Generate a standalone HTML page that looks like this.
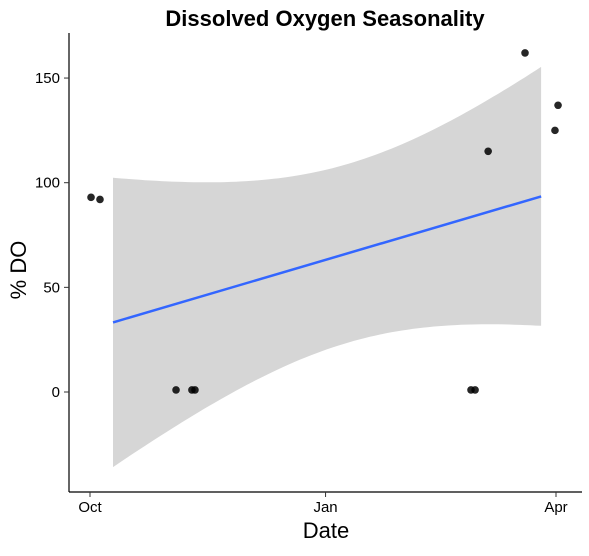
<!DOCTYPE html>
<html><head><meta charset="utf-8"><style>
body{margin:0;background:#fff}
svg text{font-family:"Liberation Sans",sans-serif}
</style></head><body>
<svg id="chart" width="589" height="551">
<text x="325" y="26" text-anchor="middle" font-size="22" font-weight="bold">Dissolved Oxygen Seasonality</text>
<text x="326" y="538" text-anchor="middle" font-size="22">Date</text>
<text transform="translate(26,270) rotate(-90)" text-anchor="middle" font-size="22">% DO</text>
<g id="plot"></g>
</svg>
<script>
// days since Oct 1
const pointDays = [0.4, 3.9, 33.6, 39.8, 41, 148.8, 150.4, 155.5, 169.9, 181.6, 182.8];
const pointValues = [93, 92, 1, 1, 1, 1, 1, 115, 162, 125, 137];
const yTicks = [0, 50, 100, 150];
const xTickDays = [0, 92, 182];
const xTickLabels = ["Oct", "Jan", "Apr"];
const fitRange = [9, 176.2];

const X = d => 90 + d * (556 - 90) / 182;
const Y = v => 392 - v * 2.093;
const ns = "http://www.w3.org/2000/svg";
const g = document.getElementById('plot');
function mk(t, a) { const e = document.createElementNS(ns, t); for (const k in a) e.setAttribute(k, a[k]); g.appendChild(e); return e; }

const n = pointDays.length;
const mx = pointDays.reduce((a, b) => a + b) / n, my = pointValues.reduce((a, b) => a + b) / n;
let sxx = 0, sxy = 0;
for (let i = 0; i < n; i++) { sxx += (pointDays[i] - mx) ** 2; sxy += (pointDays[i] - mx) * (pointValues[i] - my); }
const b = sxy / sxx, a = my - b * mx;
let sse = 0; for (let i = 0; i < n; i++) sse += (pointValues[i] - a - b * pointDays[i]) ** 2;
const s = Math.sqrt(sse / (n - 2)), t = 2.262;
const up = [], lo = [];
for (let k = 0; k <= 80; k++) {
  const d = fitRange[0] + (fitRange[1] - fitRange[0]) * k / 80;
  const f = a + b * d, hw = t * s * Math.sqrt(1 / n + (d - mx) ** 2 / sxx);
  up.push(X(d).toFixed(1) + ',' + Y(f + hw).toFixed(1));
  lo.unshift(X(d).toFixed(1) + ',' + Y(f - hw).toFixed(1));
}
const band = mk('polygon', { points: up.concat(lo).join(' '), fill: '#d6d6d6' });


const line = mk('line', { x1: X(fitRange[0]), y1: Y(a + b * fitRange[0]), x2: X(fitRange[1]), y2: Y(a + b * fitRange[1]), stroke: '#3366ff', 'stroke-width': 2.5 });



pointDays.forEach((d, i) => {
  const c = mk('circle', { cx: X(d), cy: Y(pointValues[i]), r: 3.8, fill: '#000', 'fill-opacity': 0.85 });
  
  
});

const ya = mk('line', { x1: 69, y1: 33, x2: 69, y2: 492, stroke: '#000', 'stroke-width': 1.2 });


const xa = mk('line', { x1: 69, y1: 492, x2: 582, y2: 492, stroke: '#000', 'stroke-width': 1.2 });



yTicks.forEach(v => {
  mk('line', { x1: 64, y1: Y(v), x2: 69, y2: Y(v), stroke: '#333' });
  const tx = mk('text', { x: 60, y: Y(v) + 5, 'text-anchor': 'end', 'font-size': 15, fill: '#000' });
  tx.textContent = v;
  
  
});
xTickDays.forEach((d, i) => {
  mk('line', { x1: X(d), y1: 492, x2: X(d), y2: 497, stroke: '#333' });
  const tx = mk('text', { x: X(d), y: 512, 'text-anchor': 'middle', 'font-size': 15, fill: '#000' });
  tx.textContent = xTickLabels[i];
  
  
});
</script>
</body></html>
